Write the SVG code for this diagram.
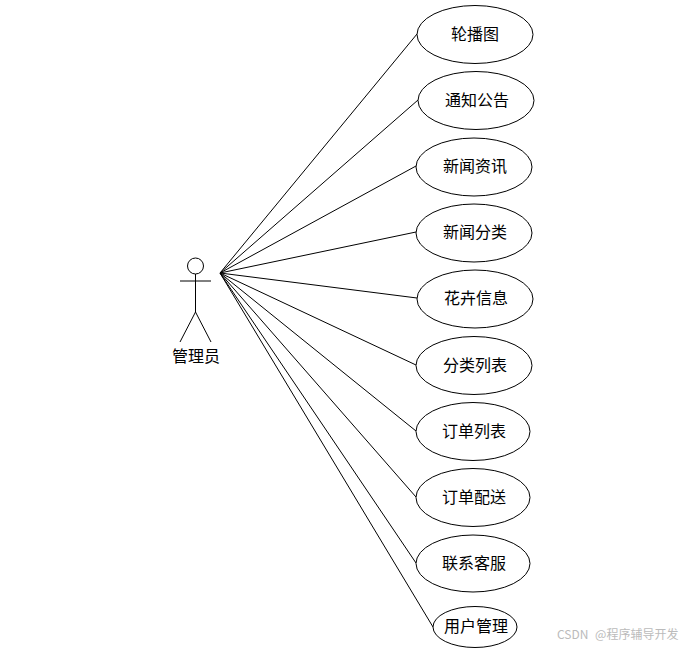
<svg xmlns="http://www.w3.org/2000/svg" width="687" height="648" viewBox="0 0 687 648">
<style>
.l{fill:none;stroke:#000;stroke-width:1}
.e{fill:#fff;stroke:#000;stroke-width:1}
text{font-family:"Noto Sans CJK SC","Noto Sans CJK JP",sans-serif;font-size:16px;fill:#000;text-anchor:middle}
.w{font-size:12px;fill:#bbb;text-anchor:start;word-spacing:4px}
</style>
<rect width="687" height="648" fill="#fff"/>
<g id="connectors" class="l">
<path d="M220 273L417 34"/><path d="M220 273L418 100"/><path d="M220 273L416 166"/><path d="M220 273L416 232"/><path d="M220 273L417 298"/><path d="M220 273L416 365"/><path d="M220 273L416 431"/><path d="M220 273L416 497"/><path d="M220 273L416 563"/><path d="M220 273L433 627"/>
</g>
<g id="actor" class="l">
<circle cx="195.500" cy="266" r="8"/><path d="M180 281H211M195.500 274V312M195.500 312L180 342M195.500 312L211 342"/>
</g>
<text x="196" y="362">管理员</text>
<g id="n1"><ellipse class="e" cx="475" cy="34.500" rx="58" ry="29"/><text x="475" y="40">轮播图</text></g>
<g id="n2"><ellipse class="e" cx="476" cy="100.500" rx="58" ry="29"/><text x="477" y="106">通知公告</text></g>
<g id="n3"><ellipse class="e" cx="474" cy="167" rx="58" ry="29"/><text x="475" y="172">新闻资讯</text></g>
<g id="n4"><ellipse class="e" cx="474" cy="233" rx="58" ry="29"/><text x="475" y="238">新闻分类</text></g>
<g id="n5"><ellipse class="e" cx="475" cy="299" rx="58" ry="29"/><text x="476" y="304">花卉信息</text></g>
<g id="n6"><ellipse class="e" cx="474" cy="365.500" rx="58" ry="29"/><text x="475" y="371">分类列表</text></g>
<g id="n7"><ellipse class="e" cx="473" cy="431.500" rx="57" ry="29"/><text x="474" y="437">订单列表</text></g>
<g id="n8"><ellipse class="e" cx="473" cy="497.500" rx="57" ry="29"/><text x="474" y="503">订单配送</text></g>
<g id="n9"><ellipse class="e" cx="473" cy="563.500" rx="57" ry="28.500"/><text x="474" y="569">联系客服</text></g>
<g id="n10"><ellipse class="e" cx="475" cy="627" rx="42" ry="20.500"/><text x="476" y="632">用户管理</text></g>
<text class="w" x="557" y="639">CSDN @程序辅导开发</text>
</svg>
